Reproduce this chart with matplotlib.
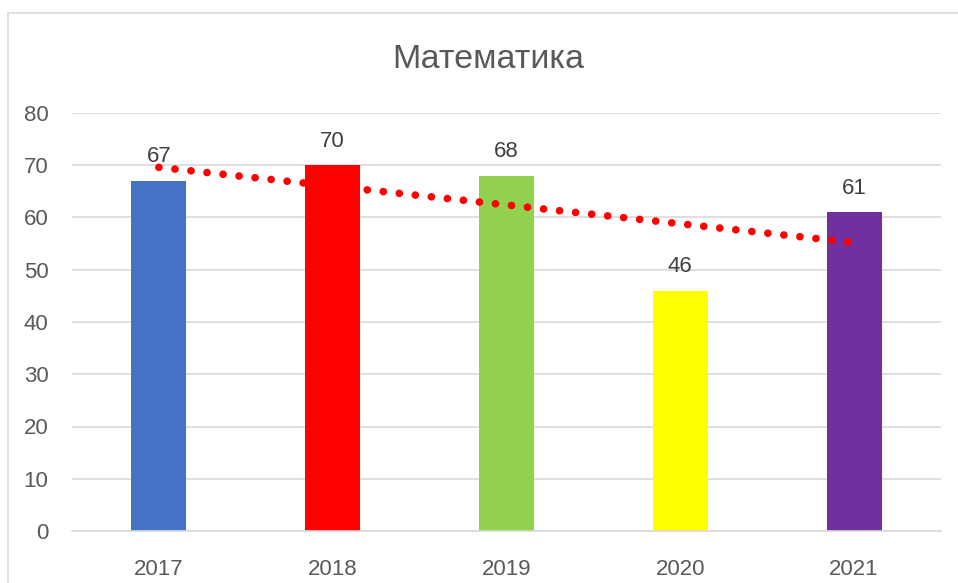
import numpy as np
import matplotlib.pyplot as plt
from matplotlib.patches import Rectangle

years = ['2017', '2018', '2019', '2020', '2021']
scores = [67, 70, 68, 46, 61]
colors = ['#4472C4', '#FF0000', '#92D050', '#FFFF00', '#7030A0']
title = 'Математика'

plt.rcParams['font.family'] = ['Liberation Sans', 'DejaVu Sans']

W, H = 958, 583
fig = plt.figure(figsize=(W / 100, H / 100), dpi=100)

# chart outline (Excel-like frame, cut at right/bottom)
fig.patches.append(Rectangle((8 / W, -0.1), 1.2, 1 - 13 / H + 0.1,
                             transform=fig.transFigure, fill=False,
                             edgecolor='#D9D9D9', linewidth=1.2))

left, right, top, bottom = 72, 941, 113, 531
ax = fig.add_axes([left / W, 1 - bottom / H, (right - left) / W, (bottom - top) / H])

x = np.arange(len(years))
ax.bar(x, scores, width=0.316, color=colors, zorder=2)

# linear trend line
k, b = np.polyfit(x, scores, 1)
ax.plot(x, k * x + b, color='#FF0000', linestyle=(0, (0.01, 2.1)),
        linewidth=5.5, dash_capstyle='round', zorder=3)

for xi, v in zip(x, scores):
    ax.text(xi, v + 2.6, str(v), ha='center', va='bottom',
            fontsize=16, color='#404040', zorder=4)

ax.set_xlim(-0.5, len(years) - 0.5)
ax.set_ylim(0, 80)
ax.set_yticks(range(0, 81, 10))
ax.set_xticks(x)
ax.set_xticklabels(years)
ax.grid(axis='y', color='#D9D9D9', linewidth=1.2, zorder=0)
for s in ['left', 'right', 'top']:
    ax.spines[s].set_visible(False)
ax.spines['bottom'].set_color('#D9D9D9')
ax.spines['bottom'].set_linewidth(1.2)
ax.tick_params(length=0, labelsize=16, labelcolor='#595959')
ax.tick_params(axis='y', pad=17)
ax.tick_params(axis='x', pad=20)

fig.text(488 / W, 1 - 60 / H, title, ha='center', va='center',
         fontsize=24.5, color='#595959')

fig.savefig('out.png', dpi=100)
